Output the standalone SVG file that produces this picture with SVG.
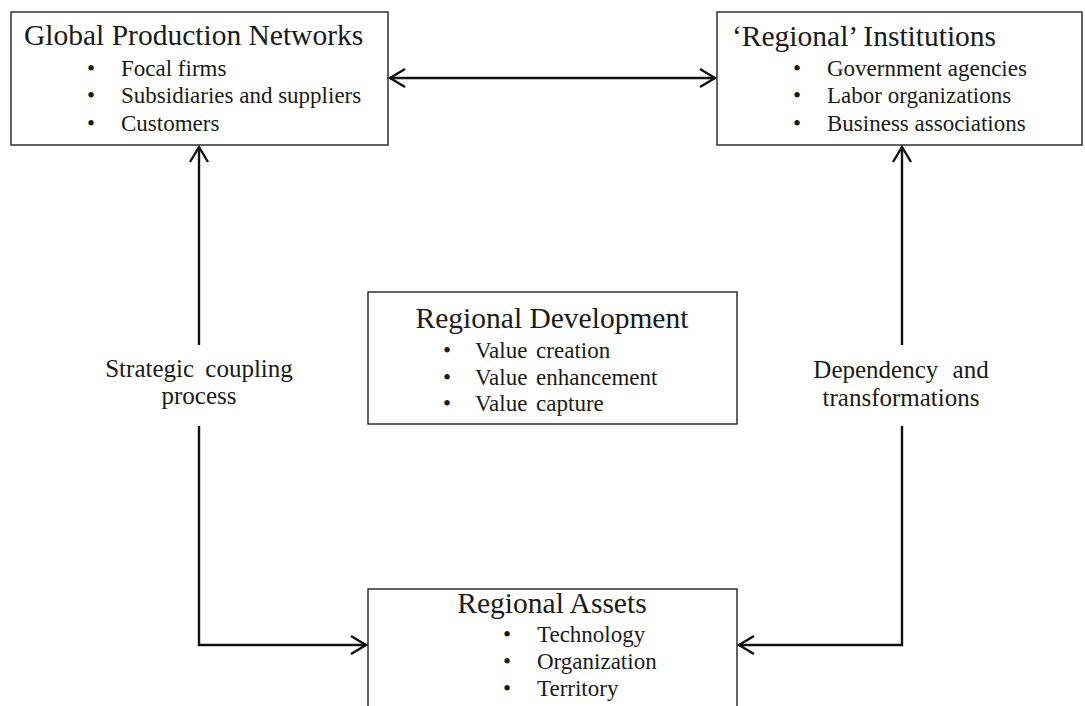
<svg xmlns="http://www.w3.org/2000/svg" width="1085" height="706" viewBox="0 0 1085 706">
<style>
.box{fill:#fff;stroke:#222;stroke-width:1.4}
.title{font-family:"Liberation Serif","Times New Roman",serif;font-size:29.5px;fill:#1a1a1a}
.item{font-family:"Liberation Serif","Times New Roman",serif;font-size:23px;fill:#1a1a1a}
.lbl{font-family:"Liberation Serif","Times New Roman",serif;font-size:25px;fill:#1a1a1a;text-anchor:middle}
.conn{fill:none;stroke:#111;stroke-width:2.4}
</style>
<defs>
<marker id="arr" markerUnits="userSpaceOnUse" markerWidth="22" markerHeight="24" refX="18" refY="12" orient="auto-start-reverse" viewBox="0 0 22 24">
<path d="M3,3 L18,12 L3,21" fill="none" stroke="#111" stroke-width="2.4"/>
</marker>
</defs>
<rect width="1085" height="706" fill="#fff"/>
<g id="gpn">
<rect class="box" x="11" y="12" width="377" height="133"/>
<text class="title" x="24" y="45">Global Production Networks</text>
<text class="item" x="87" y="76">•</text><text class="item" x="121" y="76">Focal firms</text>
<text class="item" x="87" y="103">•</text><text class="item" x="121" y="103">Subsidiaries and suppliers</text>
<text class="item" x="87" y="131">•</text><text class="item" x="121" y="131">Customers</text>
</g>
<g id="institutions">
<rect class="box" x="717" y="12" width="365" height="133"/>
<text class="title" x="732" y="46">‘Regional’ Institutions</text>
<text class="item" x="793" y="76">•</text><text class="item" x="827" y="76">Government agencies</text>
<text class="item" x="793" y="103">•</text><text class="item" x="827" y="103">Labor organizations</text>
<text class="item" x="793" y="131">•</text><text class="item" x="827" y="131">Business associations</text>
</g>
<g id="development">
<rect class="box" x="368" y="292" width="369" height="132"/>
<text class="title" x="552" y="328" text-anchor="middle">Regional Development</text>
<text class="item" x="443" y="358">•</text><text class="item" x="475" y="358" word-spacing="3">Value creation</text>
<text class="item" x="443" y="385">•</text><text class="item" x="475" y="385" word-spacing="3">Value enhancement</text>
<text class="item" x="443" y="411">•</text><text class="item" x="475" y="411" word-spacing="3">Value capture</text>
</g>
<g id="assets">
<rect class="box" x="368" y="589" width="369" height="130"/>
<text class="title" x="552" y="613" text-anchor="middle">Regional Assets</text>
<text class="item" x="503" y="642">•</text><text class="item" x="537" y="642">Technology</text>
<text class="item" x="503" y="669">•</text><text class="item" x="537" y="669">Organization</text>
<text class="item" x="503" y="696">•</text><text class="item" x="537" y="696">Territory</text>
</g>
<g id="connectors">
<line class="conn" x1="390" y1="78" x2="715" y2="78" marker-start="url(#arr)" marker-end="url(#arr)"/>
<path class="conn" d="M199,345 L199,147" marker-end="url(#arr)"/>
<path class="conn" d="M199,426 L199,645 L366,645" marker-end="url(#arr)"/>
<path class="conn" d="M902,345 L902,147" marker-end="url(#arr)"/>
<path class="conn" d="M902,426 L902,645 L739,645" marker-end="url(#arr)"/>
<text class="lbl" x="199" y="377" word-spacing="5">Strategic coupling</text>
<text class="lbl" x="199" y="404">process</text>
<text class="lbl" x="901" y="378" word-spacing="8">Dependency and</text>
<text class="lbl" x="901" y="406">transformations</text>
</g>
</svg>
